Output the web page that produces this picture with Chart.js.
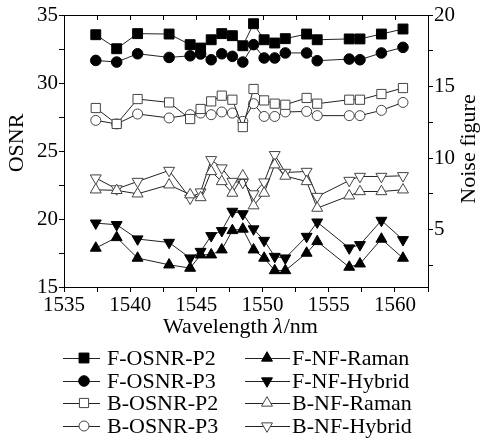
<!DOCTYPE html>
<html>
<head>
<meta charset="utf-8">
<script src="https://cdn.jsdelivr.net/npm/chart.js@4.4.1/dist/chart.umd.min.js"></script>
<style>
  body { margin: 0; background: #fff; }
  #chart { display: block; }
</style>
</head>
<body>
<canvas id="chart" width="481" height="439"></canvas>
<script>
// wavelength channels (nm)
var wavelength = [1537.40, 1538.98, 1540.56, 1542.94, 1544.53, 1545.32, 1546.12, 1546.92, 1547.72, 1548.51,
                  1549.32, 1550.12, 1550.92, 1551.72, 1553.33, 1554.13, 1556.55, 1557.36, 1558.98, 1560.61];

// OSNR (dB), left axis
var fOsnrP2 = [33.55, 32.52, 33.63, 33.60, 32.82, 32.57, 33.18, 33.63, 33.48, 32.74, 34.36, 33.18, 32.94, 33.26, 33.60, 33.18, 33.24, 33.24, 33.60, 33.97];
var fOsnrP3 = [31.66, 31.54, 32.15, 31.88, 32.00, 32.13, 31.71, 32.15, 31.96, 31.54, 32.82, 31.84, 31.84, 32.21, 32.21, 31.64, 31.76, 31.71, 32.21, 32.62];
var bOsnrP2 = [28.16, 26.99, 28.82, 28.57, 27.35, 28.09, 28.65, 29.07, 28.77, 26.76, 29.56, 28.72, 28.48, 28.40, 28.90, 28.48, 28.77, 28.77, 29.19, 29.63];
var bOsnrP3 = [27.25, 26.99, 27.72, 27.43, 27.67, 27.79, 27.67, 27.87, 27.79, 27.18, 28.48, 27.54, 27.54, 27.87, 27.91, 27.60, 27.60, 27.60, 27.99, 28.57];

// noise figure (dB), right axis
var fNfRaman  = [3.72, 4.46, 3.02, 2.55, 2.32, 3.25, 3.25, 3.60, 4.95, 5.05, 3.60, 3.02, 2.15, 2.15, 3.37, 4.18, 2.39, 2.62, 4.35, 3.02];
var fNfHybrid = [5.46, 5.35, 4.35, 4.11, 3.02, 3.48, 4.58, 4.93, 6.28, 6.11, 5.05, 4.25, 3.13, 3.02, 4.53, 5.53, 3.72, 3.95, 5.65, 4.30];
var bNfRaman  = [7.79, 7.75, 7.51, 8.14, 7.45, 7.25, 9.07, 8.37, 7.56, 8.77, 6.68, 7.56, 9.54, 8.75, 8.37, 6.51, 7.37, 7.67, 7.67, 7.79];
var bNfHybrid = [8.61, 7.85, 8.37, 9.14, 7.20, 7.63, 9.89, 9.31, 8.37, 8.30, 7.50, 8.33, 10.24, 9.00, 9.07, 7.32, 8.44, 8.72, 8.72, 8.77];

// axis ticks
var xTicks = [1535, 1537.5, 1540, 1542.5, 1545, 1547.5, 1550, 1552.5, 1555, 1557.5, 1560, 1562.5];
var osnrTicks = [15, 17.5, 20, 22.5, 25, 27.5, 30, 32.5, 35];
var nfTicks = [2.5, 5, 7.5, 10, 12.5, 15, 17.5, 20];

var FONT = "'Liberation Serif', 'Times New Roman', serif";

function pts(ys) {
    return wavelength.map(function (x, i) { return { x: x, y: ys[i] }; });
}

function series(label, ys, axis, style, filled, rot, radius) {
    return {
        label: label,
        data: pts(ys),
        yAxisID: axis,
        borderColor: "#222",
        borderWidth: 1,
        pointStyle: style,
        pointRotation: rot || 0,
        pointRadius: radius,
        pointBackgroundColor: filled ? "#000" : "#fff",
        pointBorderColor: filled ? "#000" : "#444",
        pointBorderWidth: 1,
        tension: 0
    };
}

var datasets = [
    series("F-OSNR-P2", fOsnrP2, "y", "rect", true, 0, 7),
    series("F-OSNR-P3", fOsnrP3, "y", "circle", true, 0, 5.3),
    series("B-OSNR-P2", bOsnrP2, "y", "rect", false, 0, 6.5),
    series("B-OSNR-P3", bOsnrP3, "y", "circle", false, 0, 5),
    series("F-NF-Raman", fNfRaman, "y2", "triangle", true, 0, 6.3),
    series("F-NF-Hybrid", fNfHybrid, "y2", "triangle", true, 180, 6.3),
    series("B-NF-Raman", bNfRaman, "y2", "triangle", false, 0, 6.3),
    series("B-NF-Hybrid", bNfHybrid, "y2", "triangle", false, 180, 6.3)
];

function fixedTicks(list) {
    return function (scale) {
        scale.ticks = list.map(function (v) { return { value: v }; });
    };
}

function fiveLabel(v) {
    return v % 5 === 0 ? String(v) : "";
}

// frame top, axis titles and two-column legend
var decor = {
    id: "decor",
    afterDraw: function (chart) {
        var ctx = chart.ctx;
        var a = chart.chartArea;
        var xs = chart.scales.x;
        ctx.save();
        ctx.strokeStyle = "#000";
        ctx.lineWidth = 1;
        ctx.beginPath();
        ctx.moveTo(a.left, a.top + 0.5);
        ctx.lineTo(a.right, a.top + 0.5);
        xTicks.forEach(function (v) {
            var px = Math.round(xs.getPixelForValue(v)) + 0.5;
            ctx.moveTo(px, a.top);
            ctx.lineTo(px, a.top + 5);
        });
        ctx.stroke();

        ctx.fillStyle = "#000";
        ctx.textBaseline = "middle";
        ctx.textAlign = "center";
        ctx.font = "22px " + FONT;

        ctx.save();
        ctx.translate(17, 143);
        ctx.rotate(-Math.PI / 2);
        ctx.fillText("OSNR", 0, 0);
        ctx.restore();

        ctx.save();
        ctx.translate(469, 149);
        ctx.rotate(-Math.PI / 2);
        ctx.fillText("Noise figure", 0, 0);
        ctx.restore();

        // x title with italic lambda
        var t1 = "Wavelength ", t2 = "\u03bb", t3 = "/nm";
        ctx.font = "22px " + FONT;
        var w1 = ctx.measureText(t1).width, w3 = ctx.measureText(t3).width;
        ctx.font = "italic 22px " + FONT;
        var w2 = ctx.measureText(t2).width;
        var x0 = 240 - (w1 + w2 + w3) / 2;
        ctx.textAlign = "left";
        ctx.font = "22px " + FONT;
        ctx.fillText(t1, x0, 327);
        ctx.font = "italic 22px " + FONT;
        ctx.fillText(t2, x0 + w1, 327);
        ctx.font = "22px " + FONT;
        ctx.fillText(t3, x0 + w1 + w2 + 1, 327);

        // legend
        var rows = [358, 381, 403, 426];
        var cols = [{ l: 63, r: 100, m: 84, t: 107 }, { l: 245, r: 290, m: 267, t: 292 }];
        chart.data.datasets.forEach(function (ds, i) {
            var c = cols[i < 4 ? 0 : 1];
            var y = rows[i % 4];
            ctx.strokeStyle = ds.borderColor;
            ctx.lineWidth = 1;
            ctx.beginPath();
            ctx.moveTo(c.l, y + 0.5);
            ctx.lineTo(c.r, y + 0.5);
            ctx.stroke();
            ctx.fillStyle = ds.pointBackgroundColor;
            ctx.strokeStyle = ds.pointBorderColor;
            Chart.helpers.drawPoint(ctx, {
                pointStyle: ds.pointStyle,
                rotation: ds.pointRotation,
                radius: ds.pointRadius,
                borderWidth: ds.pointBorderWidth
            }, c.m, y);
            ctx.fillStyle = "#000";
            ctx.font = "22px " + FONT;
            ctx.textAlign = "left";
            ctx.fillText(ds.label, c.t, y + 1);
        });
        ctx.restore();
    }
};

var ctx = document.getElementById("chart").getContext("2d");
var myChart = new Chart(ctx, {
    type: "line",
    data: { datasets: datasets },
    options: {
        responsive: false,
        animation: false,
        layout: { padding: { top: 15, bottom: 100, left: 0, right: 0 } },
        plugins: { legend: { display: false }, tooltip: { enabled: false } },
        scales: {
            x: {
                type: "linear",
                min: 1535,
                max: 1562.5,
                afterBuildTicks: fixedTicks(xTicks),
                afterFit: function (s) { s.height = 52; },
                ticks: { callback: fiveLabel, autoSkip: false, maxRotation: 0, color: "#000", padding: 1, font: { family: FONT, size: 21 } },
                grid: { drawOnChartArea: false, color: "#000", tickLength: 5 },
                border: { color: "#000" }
            },
            y: {
                position: "left",
                min: 15,
                max: 35,
                afterBuildTicks: fixedTicks(osnrTicks),
                afterFit: function (s) { s.width = 64; },
                ticks: { callback: fiveLabel, color: "#000", padding: 1, font: { family: FONT, size: 21 } },
                grid: { drawOnChartArea: false, color: "#000", tickLength: 5 },
                border: { color: "#000" }
            },
            y2: {
                position: "right",
                min: 1,
                max: 20,
                afterBuildTicks: fixedTicks(nfTicks),
                afterFit: function (s) { s.width = 53; },
                ticks: { callback: fiveLabel, color: "#000", padding: 1, font: { family: FONT, size: 21 } },
                grid: { drawOnChartArea: false, color: "#000", tickLength: 5 },
                border: { color: "#000" }
            }
        }
    },
    plugins: [decor]
});
</script>
</body>
</html>
